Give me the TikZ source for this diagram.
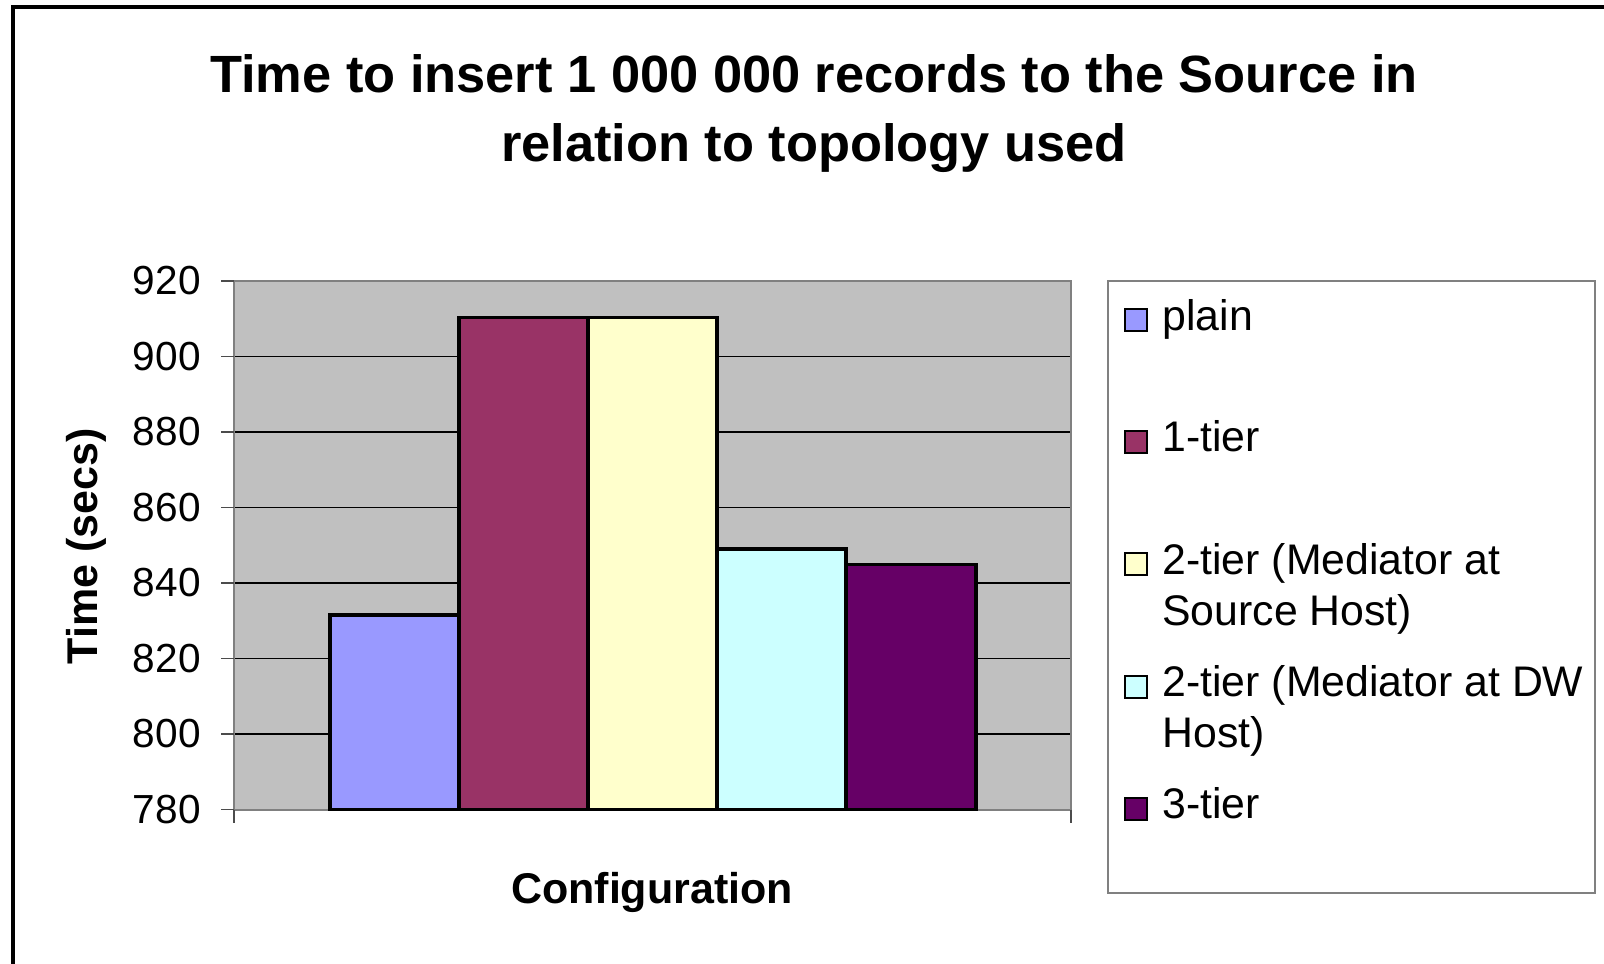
\documentclass[tikz,border=0pt]{standalone}
\usepackage{fontspec}
\setmainfont{Liberation Sans}

\definecolor{plotbg}{HTML}{C0C0C0}
\definecolor{axisgray}{HTML}{808080}
\definecolor{cplain}{HTML}{9999FF}
\definecolor{conetier}{HTML}{993366}
\definecolor{csrc}{HTML}{FFFFCC}
\definecolor{cdw}{HTML}{CCFFFF}
\definecolor{cthree}{HTML}{660066}

% value (secs) -> vertical pixel position of the plot
\newcommand\valy[1]{809.5-(#1-780)*3.775}

\begin{document}
\begin{tikzpicture}[x=0.5pt,y=-0.5pt,
  gridline/.style={black,line width=0.6pt},
  axisline/.style={axisgray,line width=1pt},
  tickmark/.style={black!70,line width=0.6pt},
  ticklabel/.style={anchor=east,inner sep=0pt,font=\fontsize{20.3}{24}\selectfont},
  barbox/.style={draw=black,line width=1.6pt},
  keybox/.style={draw=black,line width=1pt},
  keytext/.style={anchor=base west,inner sep=0pt,font=\fontsize{21.4}{25.5}\selectfont},
  axistitle/.style={inner sep=0pt,font=\fontsize{21.5}{25}\selectfont\bfseries},
  charttitle/.style={anchor=base,inner sep=0pt,font=\fontsize{26.2}{35}\selectfont\bfseries}]
\useasboundingbox (0,0) rectangle (1604,963);
\fill[white] (0,0) rectangle (1604,963);

% outer chart frame (runs off the right and bottom edges)
\draw[line width=2pt] (13,985) -- (13,7) -- (1625,7);

% title
\node[charttitle] (title1) at (814,92) {Time to insert 1 000 000 records to the Source in};
\node[charttitle] (title2) at (814,162) {relation to topology used};

% plot area and horizontal grid
\fill[plotbg] (234,281) rectangle (1071,809.5);
\foreach \v in {800,820,...,900}
  \draw[gridline] (234,{\valy{\v}}) -- (1071,{\valy{\v}});
\draw[axisline] (234,281) rectangle (1071,809.5);

% value axis: tick marks and labels
\foreach \v in {780,800,...,920} {
  \draw[tickmark] (221,{\valy{\v}}) -- (234,{\valy{\v}});
  \node[ticklabel] (tick\v) at (201,{\valy{\v}}) {\v};
}
% category axis end ticks
\draw[tickmark] (234,809.5) -- (234,823);
\draw[tickmark] (1071,809.5) -- (1071,823);

% bars
\draw[barbox,fill=cplain]   (330,809.5) rectangle (459,{\valy{831.5}});
\draw[barbox,fill=conetier] (459,809.5) rectangle (588,{\valy{910.3}});
\draw[barbox,fill=csrc]     (588,809.5) rectangle (717,{\valy{910.3}});
\draw[barbox,fill=cdw]      (717,809.5) rectangle (846,{\valy{849}});
\draw[barbox,fill=cthree]   (846,809.5) rectangle (976,{\valy{845}});

% axis titles
\node[axistitle,rotate=90,anchor=base] (ytitle) at (97,546.5) {Time (secs)};
\node[axistitle,anchor=base] (xtitle) at (652,903) {Configuration};

% legend
\draw[axisgray,line width=0.8pt,fill=white] (1108,281) rectangle (1595,893);
\draw[keybox,fill=cplain]   (1125,309) rectangle (1147,331);
\draw[keybox,fill=conetier] (1125,430.5) rectangle (1147,452.5);
\draw[keybox,fill=csrc]     (1125,553) rectangle (1147,575);
\draw[keybox,fill=cdw]      (1125,675.5) rectangle (1147,697.5);
\draw[keybox,fill=cthree]   (1125,798) rectangle (1147,820);
\node[keytext] (kplain) at (1162,330) {plain};
\node[keytext] (kone) at (1162,451.5) {1-tier};
\node[keytext] (ksrc) at (1162,574) {\begin{tabular}[t]{@{}l@{}}2-tier (Mediator at\\Source Host)\end{tabular}};
\node[keytext] (kdw) at (1162,696.5) {\begin{tabular}[t]{@{}l@{}}2-tier (Mediator at DW\\Host)\end{tabular}};
\node[keytext] (kthree) at (1162,818.5) {3-tier};
\end{tikzpicture}
\end{document}
